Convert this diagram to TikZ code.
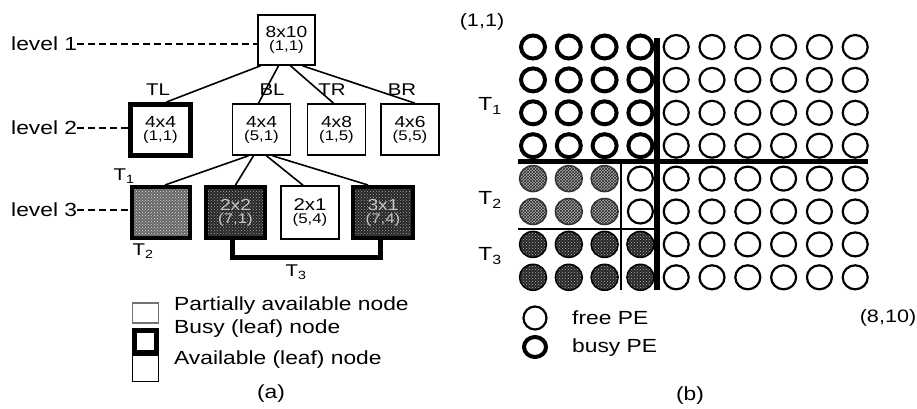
\documentclass[tikz,border=0pt]{standalone}
\usepackage{fontspec}
\setmainfont[FakeStretch=1.2]{Liberation Sans}
\usetikzlibrary{patterns}
\newcommand{\bxt}[2]{{\fontsize{16}{17}\selectfont #1}\\[1pt]{\fontsize{14}{15}\selectfont #2}}
\tikzset{
  lbl/.style={font=\fontsize{19}{21}\selectfont, inner sep=0pt},
  sml/.style={font=\fontsize{17}{19}\selectfont, inner sep=0pt},
  tnode/.style={draw, line width=1.6pt, fill=white, minimum width=58pt, minimum height=51pt, inner sep=0pt, align=center},
  busybox/.style={tnode, line width=5pt},
  texbox/.style={tnode, line width=4pt, preaction={fill=black!60}, pattern=crosshatch dots, pattern color=white!80!gray},
  darkbox/.style={tnode, line width=4pt, preaction={fill=black!85}, pattern=crosshatch dots, pattern color=gray!70, text=gray!45},
  edge/.style={line width=1.6pt},
  lev/.style={line width=1.5pt, dash pattern=on 7pt off 4pt},
  freepe/.style={draw, line width=2.2pt},
  busype/.style={draw, line width=4pt},
  t2pe/.style={draw=black!80, line width=1.5pt, preaction={fill=gray!60}, pattern=crosshatch, pattern color=black!85},
  t3pe/.style={draw=black, line width=1.5pt, preaction={fill=black!85}, pattern=crosshatch dots, pattern color=gray!60},
}
\begin{document}
\begin{tikzpicture}[x=1pt,y=-1pt]
\useasboundingbox (0,0) rectangle (917,409);
% ---------------- (a) ----------------
\node[tnode, minimum width=57pt, minimum height=50pt] (root) at (286.5,40) {\bxt{8x10}{(1,1)}};
\node[busybox, minimum width=60pt, minimum height=51pt] (tl) at (160.5,130) {\bxt{4x4}{(1,1)}};
\node[tnode] (bl) at (261.5,129.5) {\bxt{4x4}{(5,1)}};
\node[tnode] (tr) at (336.5,129.5) {\bxt{4x8}{(1,5)}};
\node[tnode] (br) at (410,129.5) {\bxt{4x6}{(5,5)}};

\node[sml] (ltl) at (158,90) {TL};
\node[sml] (lbl2) at (272,90) {BL};
\node[sml] (ltr) at (332,90) {TR};
\node[sml] (lbr) at (402,90) {BR};

\node[texbox, minimum width=58pt, minimum height=51pt] (b1) at (161,212.5) {};
\node[darkbox, minimum width=59pt, minimum height=51pt] (b2) at (235.5,212.5) {\bxt{2x2}{(7,1)}};
\node[tnode, minimum width=58pt, minimum height=53pt] (b3) at (310,212.5) {{\fontsize{17}{18}\selectfont 2x1}\\[1pt]{\fontsize{14}{15}\selectfont (5,4)}};
\node[darkbox, minimum width=60pt, minimum height=51pt] (b4) at (383,212.5) {\bxt{3x1}{(7,4)}};

\draw[edge] ([xshift=-26]root.south) -- ([xshift=6]tl.north);
\draw[edge] ([xshift=-8]root.south) -- ([xshift=-3]bl.north);
\draw[edge] ([xshift=4]root.south) -- ([xshift=-3]tr.north);
\draw[edge] ([xshift=16]root.south) -- ([xshift=5]br.north);

\draw[edge] ([xshift=-13]bl.south) -- ([xshift=4]b1.north);
\draw[edge] ([xshift=-8]bl.south) -- ([xshift=0]b2.north);
\draw[edge] ([xshift=5]bl.south) -- ([xshift=-7]b3.north);
\draw[edge] ([xshift=11]bl.south) -- ([xshift=-15]b4.north);

\draw[line width=5pt] ([xshift=-3.5]b2.south) -- ++(0,17) -| ([xshift=-3]b4.south);

\node[lbl, anchor=west] (l1) at (11,44) {level 1};
\node[lbl, anchor=west] (l2) at (11,128) {level 2};
\node[lbl, anchor=west] (l3) at (11,210) {level 3};
\draw[lev] (l1.east) -- (l1.east -| root.west);
\draw[lev] (l2.east) -- (l2.east -| tl.west);
\draw[lev] (l3.east) -- (l3.east -| b1.west);

\node[sml] (t1a) at (124,176) {T\textsubscript{1}};
\node[sml] (t2a) at (143,251) {T\textsubscript{2}};
\node[sml] (t3a) at (296,272) {T\textsubscript{3}};

% legend (a)
\node[draw=black!55, line width=1.2pt, minimum width=26pt, minimum height=20pt, inner sep=0pt] (lg1) at (145.5,313) {};
\node[draw, line width=5pt, minimum width=22pt, minimum height=22pt, inner sep=0pt] (lg2) at (145.5,341) {};
\node[draw, line width=1.6pt, minimum width=26pt, minimum height=26pt, inner sep=0pt, anchor=north] (lg3) at (lg2.south) {};
\node[lbl, anchor=west] (tx1) at (174,306) {Partially available node};
\node[lbl, anchor=west] (tx2) at (174,329) {Busy (leaf) node};
\node[lbl, anchor=west] (tx3) at (174,360) {Available (leaf) node};
\node[lbl] (capa) at (271,394) {(a)};

% ---------------- (b) ----------------
\foreach \c in {1,...,4}{\foreach \r in {1,...,4}{
  \draw[busype] ({533+35.8*(\c-1)},{47+32.9*(\r-1)}) ellipse [x radius=12, y radius=11.5];}}
\foreach \c in {5,...,10}{\foreach \r in {1,...,8}{
  \draw[freepe] ({533+35.8*(\c-1)},{47+32.9*(\r-1)}) ellipse [x radius=12.5, y radius=12];}}
\foreach \r in {5,6}{
  \draw[freepe] ({533+35.8*3},{47+32.9*(\r-1)}) ellipse [x radius=12.5, y radius=12];}
\foreach \c in {1,...,3}{\foreach \r in {5,6}{
  \draw[t2pe] ({533+35.8*(\c-1)},{47+32.9*(\r-1)}) ellipse [x radius=13.5, y radius=13];}}
\foreach \c in {1,...,4}{\foreach \r in {7,8}{
  \draw[t3pe] ({533+35.8*(\c-1)},{47+32.9*(\r-1)}) ellipse [x radius=13.5, y radius=13];}}

\coordinate (vtop) at (657,38);
\coordinate (vbot) at (657,290);
\coordinate (hl) at (518,161);
\coordinate (hr) at (868,161);
\draw[line width=6pt] (vtop) -- (vbot);
\draw[line width=5pt] (hl) -- (hr);
\coordinate (tvt) at (621,161);
\coordinate (tvb) at (621,290);
\coordinate (thl) at (518,229);
\coordinate (thr) at (657,229);
\draw[line width=1.5pt] (tvt) -- (tvb);
\draw[line width=1.5pt] (thl) -- (thr);

\node[font=\fontsize{18}{20}\selectfont, inner sep=0pt] (c11) at (482,22) {(1,1)};
\node[font=\fontsize{18}{20}\selectfont, inner sep=0pt] (c810) at (888,318) {(8,10)};
\node[lbl] (t1b) at (490,106) {T\textsubscript{1}};
\node[lbl] (t2b) at (490,200) {T\textsubscript{2}};
\node[lbl] (t3b) at (490,256) {T\textsubscript{3}};

\draw[freepe] (535,318) ellipse [x radius=11.5, y radius=11.5];
\draw[busype] (535,347) ellipse [x radius=11, y radius=10];
\node[lbl, anchor=west] (fpe) at (572,318) {free PE};
\node[lbl, anchor=west] (bpe) at (572,348) {busy PE};
\node[lbl] (capb) at (690,396) {(b)};
\end{tikzpicture}
\end{document}
